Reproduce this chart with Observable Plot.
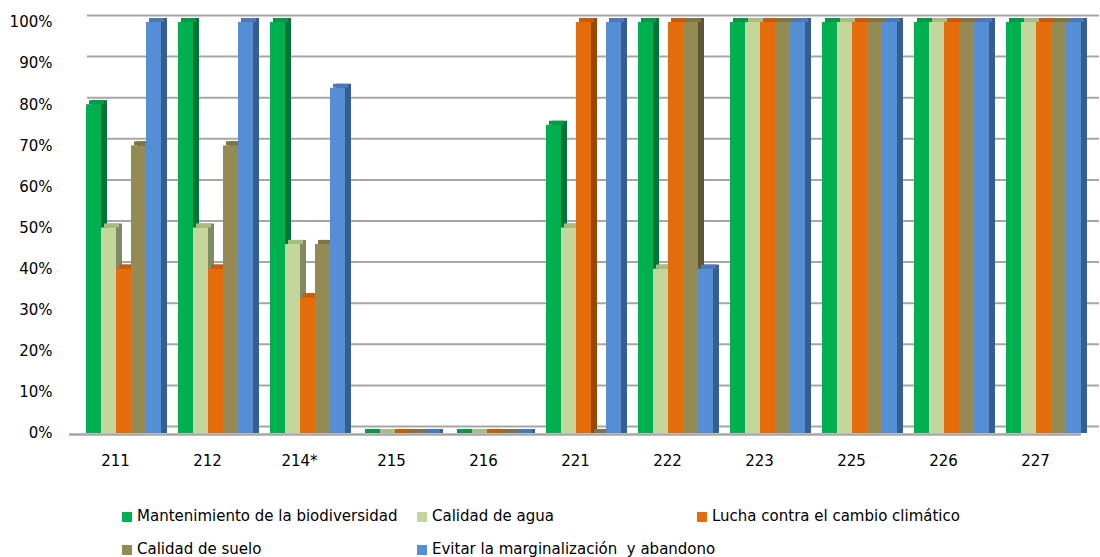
<!DOCTYPE html>
<html>
<head>
<meta charset="utf-8">
<script src="https://cdn.jsdelivr.net/npm/d3@7"></script>
<script src="https://cdn.jsdelivr.net/npm/@observablehq/plot@0.6"></script>
<style>
  html, body { margin: 0; padding: 0; background: #fff; }
  #wrap { position: relative; width: 1100px; height: 557px; font-family: "DejaVu Sans", sans-serif; }
  #chart { position: absolute; left: 0; top: 0; }
  .lg { position: absolute; font-size: 15px; color: #000; white-space: pre; line-height: 18px; }
  .lg .sw { display: inline-block; width: 10px; height: 10px; margin-right: 5px; vertical-align: -1px; }
</style>
</head>
<body>
<div id="wrap">
  <div id="chart"></div>
  <div id="legend"></div>
</div>
<script>
// ---- data ----
const categories = ["211", "212", "214*", "215", "216", "221", "222", "223", "225", "226", "227"];
const seriesNames = [
  "Mantenimiento de la biodiversidad",
  "Calidad de agua",
  "Lucha contra el cambio climático",
  "Calidad de suelo",
  "Evitar la marginalización  y abandono"
];
const biodiversidad   = [80, 100, 100, 0, 0, 75, 100, 100, 100, 100, 100];
const calidadAgua     = [50,  50,  46, 0, 0, 50,  40, 100, 100, 100, 100];
const cambioClimatico = [40,  40,  33, 0, 0, 100, 100, 100, 100, 100, 100];
const calidadSuelo    = [70,  70,  46, 0, 0,  0, 100, 100, 100, 100, 100];
const marginalizacion = [100, 100, 84, 0, 0, 100, 40, 100, 100, 100, 100];
const yTicks = [0, 10, 20, 30, 40, 50, 60, 70, 80, 90, 100];

// ---- styles ----
const frontColors = ["#00B050", "#C3D69B", "#E46C0A", "#948A54", "#558ED5"];
const topColors   = ["#009A45", "#A9BC82", "#C75B08", "#7E7546", "#4879B8"];
const sideColors  = ["#007535", "#7F8A63", "#974706", "#5F5733", "#365F91"];

const seriesValues = [biodiversidad, calidadAgua, cambioClimatico, calidadSuelo, marginalizacion];
const rows = [];
categories.forEach((c, ci) => {
  seriesNames.forEach((s, si) => {
    rows.push({category: c, series: s, si, value: seriesValues[si][ci]});
  });
});

const grid = "#A6A6A6";
const chart = Plot.plot({
  width: 1100,
  height: 483,
  marginLeft: 69,
  marginRight: 19,
  marginTop: 22,
  marginBottom: 50,
  style: {fontFamily: "DejaVu Sans, sans-serif", fontSize: "15px", color: "#000", background: "#fff"},
  facet: {data: rows, x: "category"},
  fx: {domain: categories, padding: 0, axis: "bottom", label: null, tickSize: 0, tickPadding: 22},
  x: {domain: seriesNames, axis: null, paddingInner: 0, paddingOuter: 0.42},
  y: {domain: [0, 100], ticks: yTicks, tickFormat: d => d + "%", tickSize: 0, tickPadding: 17, label: null},
  color: {type: "identity"},
  marks: [
    Plot.ruleY(yTicks, {dx: 18, dy: -7, stroke: grid, strokeWidth: 2}),
    Plot.ruleY([0], {stroke: grid, strokeWidth: 2.5, dy: 1}),
    // side faces
    Plot.barY(rows, {x: "series", y: "value", fill: d => sideColors[d.si], dx: 14, insetTop: -4}),
    // top faces
    Plot.barY(rows, {x: "series", y1: "value", y2: "value", fill: d => topColors[d.si], dx: 11, insetTop: -4}),
    // front faces
    Plot.barY(rows, {x: "series", y: "value", fill: d => frontColors[d.si], dx: 8})
  ]
});
document.getElementById("chart").appendChild(chart);

// ---- legend ----
const legendPos = [
  {left: 122, top: 507}, {left: 417, top: 507}, {left: 697, top: 507},
  {left: 122, top: 540}, {left: 417, top: 540}
];
const legend = document.getElementById("legend");
seriesNames.forEach((s, i) => {
  const el = document.createElement("div");
  el.className = "lg";
  el.style.left = legendPos[i].left + "px";
  el.style.top = legendPos[i].top + "px";
  const sw = document.createElement("span");
  sw.className = "sw";
  sw.style.background = frontColors[i];
  el.appendChild(sw);
  el.appendChild(document.createTextNode(s));
  legend.appendChild(el);
});
</script>
</body>
</html>
